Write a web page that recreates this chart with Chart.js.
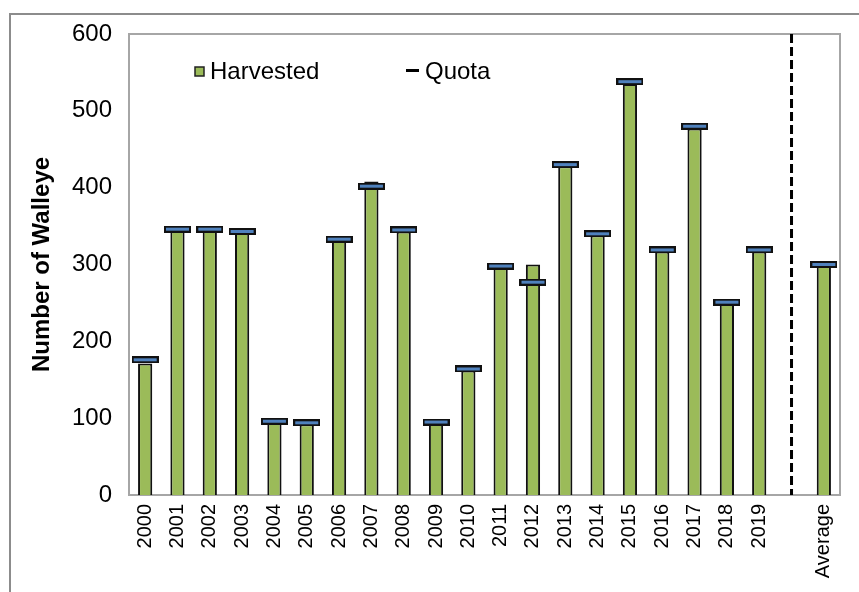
<!DOCTYPE html>
<html>
<head>
<meta charset="utf-8">
<script src="https://cdn.jsdelivr.net/npm/chart.js@4.4.1/dist/chart.umd.min.js"></script>
<style>
html, body { margin: 0; padding: 0; background: #fff; }
#walleyeChart { display: block; }
</style>
</head>
<body>
<canvas id="walleyeChart" width="859" height="592"></canvas>
<script>
// walleye harvest vs quota, 2000-2019 plus the average
const categories = ['2000','2001','2002','2003','2004','2005','2006','2007','2008','2009',
                    '2010','2011','2012','2013','2014','2015','2016','2017','2018','2019','','Average'];
const harvested = [171, 344, 344, 341, 94, 92, 331, 408, 343, 93,
                   162, 296, 300, 428, 338, 535, 317, 477, 249, 317, null, 298];
const quota     = [176, 346, 346, 343, 96, 94, 333, 402, 345, 95,
                   164, 298, 277, 430, 340, 538, 319, 480, 251, 319, null, 300];
const yTicks = [0, 100, 200, 300, 400, 500, 600];
const splitIndex = 20;   // gap slot between 2019 and the average

const FONT = "'Liberation Sans', Arial, sans-serif";
const GREEN = '#9BBB59';
const BLUE = '#4F81BD';

// quota marker: short blue bar with black outline
function quotaMarker() {
    const c = document.createElement('canvas');
    c.width = 27; c.height = 7;
    const g = c.getContext('2d');
    g.fillStyle = '#111';
    g.fillRect(0, 0, 27, 7);
    g.fillStyle = BLUE;
    g.fillRect(2, 2, 23, 3);
    return c;
}

const framePlugin = {
    id: 'frame',
    beforeDraw(chart) {
        const ctx = chart.ctx;
        ctx.save();
        // outer border
        ctx.strokeStyle = '#8c8c8c';
        ctx.lineWidth = 2;
        ctx.beginPath();
        ctx.moveTo(10, 592);
        ctx.lineTo(10, 14);
        ctx.lineTo(859, 14);
        ctx.stroke();
        ctx.restore();
    },
    beforeDatasetsDraw(chart) {
        const {ctx, chartArea: a} = chart;
        ctx.save();
        ctx.strokeStyle = '#a6a6a6';
        ctx.lineWidth = 2;
        ctx.strokeRect(a.left, a.top, a.right - a.left, a.bottom - a.top);
        ctx.restore();
    },
    afterDatasetsDraw(chart) {
        const {ctx, chartArea: a, scales} = chart;
        const x = scales.x.getPixelForValue(splitIndex);
        ctx.save();
        ctx.strokeStyle = '#000';
        ctx.lineWidth = 3;
        ctx.setLineDash([9, 4]);
        ctx.beginPath();
        ctx.moveTo(x, a.top);
        ctx.lineTo(x, a.bottom);
        ctx.stroke();
        ctx.restore();
    },
    afterDraw(chart) {
        const ctx = chart.ctx;
        const ds = chart.data.datasets;
        ctx.save();
        ctx.font = '24px ' + FONT;
        ctx.textBaseline = 'alphabetic';
        // Harvested
        ctx.fillStyle = GREEN;
        ctx.fillRect(195, 67, 9, 9);
        ctx.strokeStyle = '#222';
        ctx.lineWidth = 1.5;
        ctx.strokeRect(195, 67, 9, 9);
        ctx.fillStyle = '#000';
        ctx.fillText(ds[1].label, 210, 79);
        // Quota
        ctx.fillRect(406, 69, 13, 3);
        ctx.fillText(ds[0].label, 425, 79);
        ctx.restore();
    }
};

new Chart(document.getElementById('walleyeChart'), {
    type: 'bar',
    data: {
        labels: categories,
        datasets: [
            {
                type: 'line',
                label: 'Quota',
                data: quota,
                showLine: false,
                pointStyle: quotaMarker(),
                pointRadius: 5,
                order: 0
            },
            {
                label: 'Harvested',
                data: harvested,
                backgroundColor: GREEN,
                borderColor: '#111',
                borderWidth: 2,
                barPercentage: 0.44,
                categoryPercentage: 1,
                order: 1
            }
        ]
    },
    options: {
        responsive: false,
        devicePixelRatio: 1,
        animation: false,
        layout: { padding: { top: 34, right: 19, bottom: 0, left: 0 } },
        plugins: {
            legend: { display: false },
            tooltip: { enabled: false }
        },
        scales: {
            x: {
                grid: { display: false, drawTicks: false },
                border: { display: false },
                ticks: {
                    autoSkip: false,
                    minRotation: 90,
                    maxRotation: 90,
                    padding: 9,
                    color: '#000',
                    font: { family: FONT, size: 20 }
                },
                afterFit(scale) { scale.height = 97; }
            },
            y: {
                min: 0,
                max: 600,
                grid: { display: false, drawTicks: false },
                border: { display: false },
                afterBuildTicks(scale) { scale.ticks = yTicks.map(v => ({ value: v })); },
                ticks: {
                    padding: 17,
                    color: '#000',
                    font: { family: FONT, size: 24 }
                },
                title: {
                    display: true,
                    text: 'Number of Walleye',
                    color: '#000',
                    padding: { top: 28, bottom: 0 },
                    font: { family: FONT, size: 24, weight: 'bold' }
                },
                afterFit(scale) { scale.width = 129; }
            }
        }
    },
    plugins: [framePlugin]
});
</script>
</body>
</html>
